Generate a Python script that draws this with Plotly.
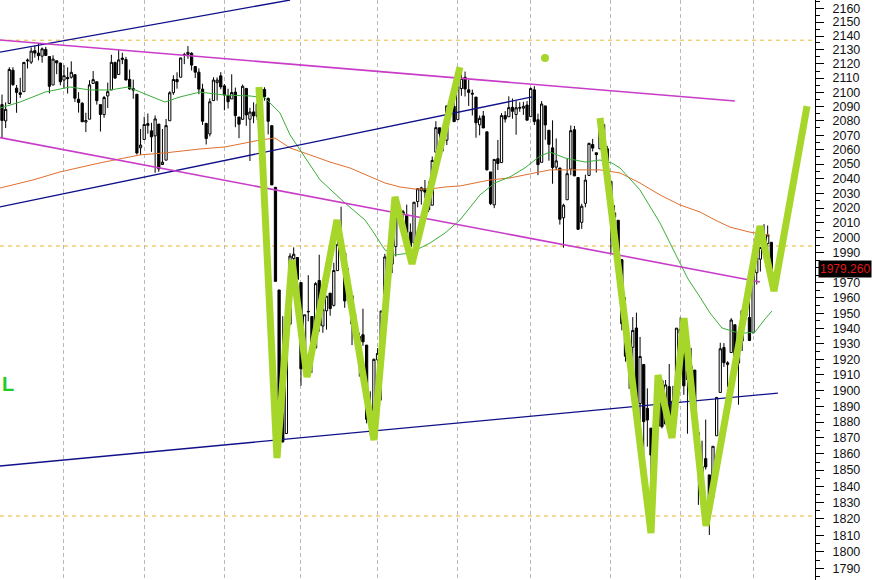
import math
import plotly.graph_objects as go

# ---------------- data (daily candles) ----------------
dates = [
 "2015-05-06","2015-05-07","2015-05-08","2015-05-11","2015-05-12","2015-05-13","2015-05-14","2015-05-15",
 "2015-05-18","2015-05-19","2015-05-20","2015-05-21","2015-05-22","2015-05-26","2015-05-27","2015-05-28","2015-05-29",
 "2015-06-01","2015-06-02","2015-06-03","2015-06-04","2015-06-05","2015-06-08","2015-06-09","2015-06-10","2015-06-11",
 "2015-06-12","2015-06-15","2015-06-16","2015-06-17","2015-06-18","2015-06-19","2015-06-22","2015-06-23","2015-06-24",
 "2015-06-25","2015-06-26","2015-06-29","2015-06-30",
 "2015-07-01","2015-07-02","2015-07-06","2015-07-07","2015-07-08","2015-07-09","2015-07-10","2015-07-13","2015-07-14",
 "2015-07-15","2015-07-16","2015-07-17","2015-07-20","2015-07-21","2015-07-22","2015-07-23","2015-07-24","2015-07-27",
 "2015-07-28","2015-07-29","2015-07-30","2015-07-31",
 "2015-08-03","2015-08-04","2015-08-05","2015-08-06","2015-08-07","2015-08-10","2015-08-11","2015-08-12","2015-08-13",
 "2015-08-14","2015-08-17","2015-08-18","2015-08-19","2015-08-20","2015-08-21","2015-08-24","2015-08-25","2015-08-26",
 "2015-08-27","2015-08-28","2015-08-31",
 "2015-09-01","2015-09-02","2015-09-03","2015-09-04","2015-09-08","2015-09-09","2015-09-10","2015-09-11","2015-09-14",
 "2015-09-15","2015-09-16","2015-09-17","2015-09-18","2015-09-21","2015-09-22","2015-09-23","2015-09-24","2015-09-25",
 "2015-09-28","2015-09-29","2015-09-30",
 "2015-10-01","2015-10-02","2015-10-05","2015-10-06","2015-10-07","2015-10-08","2015-10-09","2015-10-12","2015-10-13",
 "2015-10-14","2015-10-15","2015-10-16","2015-10-19","2015-10-20","2015-10-21","2015-10-22","2015-10-23","2015-10-26",
 "2015-10-27","2015-10-28","2015-10-29","2015-10-30",
 "2015-11-02","2015-11-03","2015-11-04","2015-11-05","2015-11-06","2015-11-09","2015-11-10","2015-11-11","2015-11-12",
 "2015-11-13","2015-11-16","2015-11-17","2015-11-18","2015-11-19","2015-11-20","2015-11-23","2015-11-24","2015-11-25",
 "2015-11-27","2015-11-30",
 "2015-12-01","2015-12-02","2015-12-03","2015-12-04","2015-12-07","2015-12-08","2015-12-09","2015-12-10","2015-12-11",
 "2015-12-14","2015-12-15","2015-12-16","2015-12-17","2015-12-18","2015-12-21","2015-12-22","2015-12-23","2015-12-24",
 "2015-12-28","2015-12-29","2015-12-30","2015-12-31",
 "2016-01-04","2016-01-05","2016-01-06","2016-01-07","2016-01-08","2016-01-11","2016-01-12","2016-01-13","2016-01-14",
 "2016-01-15","2016-01-19","2016-01-20","2016-01-21","2016-01-22","2016-01-25","2016-01-26","2016-01-27","2016-01-28",
 "2016-01-29",
 "2016-02-01","2016-02-02","2016-02-03","2016-02-04","2016-02-05","2016-02-08","2016-02-09","2016-02-10","2016-02-11",
 "2016-02-12","2016-02-16","2016-02-17","2016-02-18","2016-02-19","2016-02-22","2016-02-23","2016-02-24","2016-02-25",
 "2016-02-26","2016-02-29",
 "2016-03-01","2016-03-02","2016-03-03","2016-03-04","2016-03-07","2016-03-08",
]

opens = [
 2091.3,2079.9,2092.1,2115.6,2102.9,2099.6,2100.4,2122.1,2121.3,2129.5,2127.8,2125.6,2130.4,2125.3,2105.1,2122.3,2120.7,
 2108.6,2110.4,2110.6,2112.4,2095.1,2092.3,2079.1,2081.1,2106.2,2107.4,2091.3,2084.3,2097.4,2101.6,2121.1,2112.5,2123.2,
 2123.2,2109.1,2102.6,2098.6,2061.2,
 2067.0,2078.0,2073.0,2069.5,2077.7,2049.7,2052.7,2080.0,2099.7,2109.0,2110.6,2126.8,2126.9,2127.6,2118.2,2114.2,2102.2,
 2078.2,2070.8,2094.1,2106.8,2111.6,
 2104.5,2097.7,2095.3,2100.1,2082.6,2081.0,2102.7,2081.1,2086.2,2083.2,2089.7,2102.0,2095.7,2076.6,2034.1,1965.2,1898.1,
 1872.8,1942.8,1986.1,1986.7,
 1970.1,1916.5,1950.8,1947.8,1927.3,1971.5,1941.6,1951.5,1963.1,1955.1,1978.0,1995.3,1989.7,1960.8,1961.4,1943.2,1934.8,
 1935.9,1929.2,1881.9,1887.1,
 1919.7,1921.8,1954.3,1986.6,1982.3,1994.0,2013.7,2015.7,2015.0,2003.7,1996.5,2024.4,2031.7,2033.1,2033.5,2021.9,2058.2,
 2075.1,2068.8,2066.5,2088.4,2090.0,
 2080.8,2102.6,2110.6,2101.7,2098.6,2096.6,2077.2,2083.4,2072.3,2044.6,2022.1,2053.7,2051.0,2083.7,2082.8,2089.4,2084.4,
 2089.3,2088.8,2091.0,
 2082.9,2101.7,2080.7,2051.2,2090.4,2073.4,2061.2,2047.9,2047.3,2013.4,2025.6,2046.5,2073.8,2040.8,2010.3,2023.2,2042.2,
 2063.5,2057.8,2060.5,2077.3,2060.6,
 2038.2,2013.8,2011.7,1985.3,1946.0,1926.1,1927.8,1940.3,1891.7,1916.7,1888.7,1876.2,1861.5,1877.4,1906.3,1878.8,1902.5,
 1885.2,1894.0,
 1936.9,1935.3,1907.1,1911.7,1913.1,1873.3,1848.5,1857.1,1847.0,1833.4,1871.4,1898.8,1927.6,1916.7,1924.4,1942.4,1917.6,
 1931.9,1955.0,1947.1,
 1937.1,1976.6,1985.6,1994.0,1996.1,1996.9,
]

highs = [
 2098.4,2092.9,2117.7,2117.7,2105.1,2110.2,2121.5,2123.9,2131.8,2133.0,2134.7,2131.8,2132.2,2125.3,2126.2,2122.3,2120.7,
 2119.2,2117.6,2121.9,2112.9,2100.0,2093.0,2085.6,2108.5,2115.0,2107.4,2091.3,2097.4,2106.8,2126.6,2121.6,2129.9,2128.0,
 2125.1,2116.0,2108.9,2098.6,2074.3,
 2082.8,2085.1,2078.6,2083.7,2077.7,2074.3,2081.3,2100.7,2112.0,2114.1,2124.4,2128.0,2132.8,2128.4,2118.5,2116.9,2106.0,
 2078.2,2095.6,2110.6,2110.5,2114.2,
 2105.7,2102.5,2112.7,2103.3,2082.6,2105.4,2102.7,2089.1,2092.9,2092.5,2102.9,2103.5,2096.2,2076.6,2034.1,1965.2,1948.0,
 1943.1,1989.6,1993.5,1986.7,
 1970.1,1948.9,1975.0,1947.8,1970.4,1988.6,1965.3,1961.1,1963.1,1983.2,1997.3,2020.9,1989.7,1979.6,1961.4,1949.5,1937.2,
 1952.9,1929.2,1899.5,1920.5,
 1927.2,1951.4,1989.2,1991.6,1999.3,2016.5,2020.1,2018.7,2022.3,2009.6,2024.2,2033.5,2034.5,2039.1,2038.0,2055.2,2079.7,
 2075.1,2070.4,2090.4,2092.5,2094.3,
 2106.2,2116.5,2114.6,2108.8,2101.9,2096.6,2083.7,2086.9,2072.3,2044.6,2053.2,2066.7,2085.3,2086.7,2097.1,2095.6,2094.1,
 2093.0,2093.3,2093.8,
 2103.4,2104.3,2085.0,2093.8,2090.4,2073.4,2080.3,2067.7,2047.3,2022.9,2053.9,2076.7,2076.4,2040.8,2022.9,2042.7,2064.7,
 2067.4,2057.8,2081.6,2077.3,2062.5,
 2038.2,2021.9,2011.7,1985.3,1960.4,1935.7,1947.4,1950.3,1934.5,1916.7,1901.4,1876.2,1889.9,1908.9,1906.3,1906.7,1917.0,
 1903.0,1940.2,
 1947.2,1935.3,1918.0,1927.4,1913.1,1873.3,1868.3,1881.6,1847.0,1864.8,1895.8,1930.7,1930.5,1918.8,1946.7,1942.4,1932.1,
 1951.8,1963.0,1958.3,
 1978.4,1986.5,1993.7,2009.1,2008.2,1996.9,
]

lows = [
 2067.9,2074.9,2092.1,2104.6,2085.6,2096.0,2100.4,2116.8,2120.0,2124.5,2122.6,2120.9,2126.1,2099.2,2105.1,2112.8,2104.9,
 2102.5,2099.1,2109.6,2093.2,2085.7,2079.1,2072.1,2081.1,2106.2,2091.3,2072.5,2082.1,2088.9,2101.6,2109.5,2112.5,2119.9,
 2108.6,2101.8,2095.4,2056.6,2056.3,
 2067.0,2071.0,2058.4,2044.0,2044.7,2049.7,2052.7,2080.0,2098.2,2102.5,2110.6,2119.9,2123.7,2115.4,2110.0,2098.6,2077.1,
 2063.5,2069.1,2094.1,2094.1,2102.1,
 2087.3,2088.6,2095.3,2075.5,2067.9,2081.0,2076.5,2052.1,2078.3,2080.6,2079.3,2094.1,2070.5,2035.7,1970.9,1867.0,1867.1,
 1872.8,1942.8,1975.2,1966.0,
 1903.1,1916.5,1944.7,1911.2,1927.3,1937.9,1937.2,1939.2,1948.3,1954.3,1977.9,1986.7,1953.5,1955.8,1929.2,1932.6,1908.9,
 1928.7,1879.2,1871.9,1887.1,
 1900.7,1893.7,1954.3,1972.0,1976.4,1987.5,2007.6,2010.3,2001.8,1990.7,1996.5,2020.5,2022.3,2026.6,2017.2,2021.9,2058.2,
 2066.5,2058.8,2063.1,2082.6,2079.3,
 2080.8,2097.5,2097.0,2090.4,2083.7,2068.2,2069.9,2074.9,2045.7,2022.0,2019.9,2045.9,2051.0,2078.8,2082.8,2081.4,2070.3,
 2086.3,2084.1,2080.4,
 2082.9,2077.1,2042.4,2051.2,2066.8,2052.3,2036.5,2045.9,2008.8,1993.3,2025.6,2042.4,2041.7,2005.3,2005.9,2020.5,2042.2,
 2058.7,2044.2,2060.5,2062.0,2043.6,
 1989.7,2004.2,1979.1,1938.8,1918.5,1901.1,1914.4,1886.3,1878.9,1857.8,1864.6,1812.3,1849.0,1877.4,1876.0,1878.8,1872.7,
 1873.7,1894.0,
 1920.0,1897.3,1872.7,1900.5,1872.7,1828.5,1834.9,1850.3,1810.1,1833.4,1871.4,1898.8,1915.1,1902.2,1924.4,1919.4,1891.0,
 1925.4,1945.8,1931.8,
 1937.1,1968.8,1977.4,1986.6,1989.4,1977.4,
]

closes = [
 2080.2,2088.0,2116.1,2105.3,2099.9,2098.5,2121.1,2122.7,2129.2,2127.8,2125.9,2130.8,2126.1,2104.2,2123.5,2120.8,2107.4,
 2111.7,2109.6,2114.1,2095.8,2092.8,2079.3,2080.2,2105.2,2108.9,2094.1,2084.4,2096.3,2100.4,2121.2,2110.0,2122.9,2124.2,
 2108.6,2102.3,2101.5,2057.6,2063.1,
 2077.4,2076.8,2068.8,2081.3,2046.7,2051.3,2076.6,2099.6,2109.0,2107.4,2124.3,2126.6,2128.3,2119.2,2114.2,2102.2,2079.7,
 2067.6,2093.3,2108.6,2108.6,2103.8,
 2098.0,2093.3,2099.8,2083.6,2077.6,2104.2,2084.1,2086.1,2083.4,2091.5,2102.4,2096.9,2079.6,2035.7,1970.9,1893.2,1867.6,
 1940.5,1987.7,1988.9,1972.2,
 1913.9,1948.9,1951.1,1921.2,1969.4,1942.0,1952.3,1961.1,1953.0,1978.1,1995.3,1990.2,1958.0,1967.0,1942.7,1938.8,1932.2,
 1931.3,1881.8,1884.1,1920.0,
 1923.8,1951.4,1987.1,1979.9,1995.8,2013.4,2014.9,2017.5,2003.7,1994.2,2023.9,2033.1,2033.7,2030.8,2018.9,2052.5,2075.2,
 2071.2,2065.9,2090.4,2089.4,2079.4,
 2104.1,2109.8,2102.3,2099.9,2099.2,2078.6,2081.7,2075.0,2046.0,2023.0,2053.2,2050.4,2083.6,2081.2,2089.2,2086.6,2089.1,
 2088.9,2090.1,2080.4,
 2102.6,2079.5,2049.6,2091.7,2077.1,2063.6,2047.6,2052.2,2012.4,2021.9,2043.4,2073.1,2041.9,2005.6,2021.2,2039.0,2064.3,
 2061.0,2056.5,2078.4,2063.4,2043.9,
 2012.7,2016.7,1990.3,1943.1,1922.0,1923.7,1938.7,1890.3,1921.8,1880.3,1881.3,1859.3,1869.0,1906.9,1877.1,1903.6,1883.0,
 1893.4,1940.2,
 1939.4,1903.0,1912.5,1915.5,1880.1,1853.4,1852.2,1851.9,1829.1,1864.8,1895.6,1926.8,1917.8,1917.8,1945.5,1921.3,1929.8,
 1951.7,1948.1,1932.2,
 1978.4,1986.5,1993.4,2000.0,2001.8,1979.26,
]

# moving averages (x = candle number from first candle)
ma_green_x = [-0.55, 4.93, 11.79, 18.65, 24.13, 29.62, 34.55, 37.84, 44.70, 48.82, 54.30, 61.16, 68.01, 72.13,
              76.24, 78.99, 87.21, 94.07, 99.56, 101.48, 105.04, 107.78, 111.90, 117.38, 121.50, 125.61, 128.35,
              131.10, 135.21, 139.33, 143.44, 147.55, 150.30, 154.41, 159.90, 164.01, 167.30, 169.50, 174.98,
              180.47, 184.58, 188.15, 191.44, 194.18, 197.47, 201.04, 203.78, 206.52, 209.27, 211.18]
ma_green_v = [2088.9, 2093.1, 2100.1, 2103.7, 2101.6, 2101.6, 2103.7, 2100.1, 2093.1, 2096.7, 2100.1, 2098.0,
              2097.4, 2096.0, 2085.5, 2070.2, 2039.2, 2023.4, 2011.9, 2005.1, 1991.7, 1988.4, 1989.7, 1996.4,
              2003.1, 2011.9, 2020.7, 2028.9, 2037.1, 2041.2, 2047.4, 2055.5, 2058.3, 2054.2, 2051.4, 2052.8,
              2050.7, 2047.3, 2032.3, 2009.9, 1989.7, 1972.5, 1960.5, 1950.1, 1940.3, 1937.7, 1937.0, 1937.7,
              1946.2, 1951.4]
ma_orange_x = [-0.55, 8.50, 15.90, 26.87, 37.84, 44.70, 54.30, 61.16, 68.01, 70.76, 74.87, 78.99, 84.47, 89.96,
               95.45, 100.93, 105.04, 109.15, 113.27, 117.38, 121.50, 125.61, 129.73, 133.84, 139.33, 144.81,
               150.30, 158.53, 164.01, 169.50, 174.98, 180.47, 185.95, 191.44, 195.55, 199.67, 205.15, 210.63]
ma_orange_v = [2033.6, 2039.1, 2044.6, 2050.8, 2056.3, 2057.7, 2060.4, 2061.8, 2065.2, 2066.6, 2068.0, 2061.1,
               2056.3, 2051.4, 2047.3, 2041.1, 2037.0, 2034.3, 2032.9, 2032.9, 2034.3, 2035.0, 2037.0, 2039.1,
               2040.5, 2043.2, 2046.0, 2046.0, 2046.0, 2043.9, 2037.0, 2028.9, 2022.1, 2017.3, 2011.9, 2007.1,
               2003.7, 2001.7]

# trendlines: (x0, v0, x1, v1)
blue_lines = [(-0.55, 2128.5, 79.0, 2166.0),
              (-0.55, 2020.7, 145.4, 2096.7),
              (-0.55, 1852.5, 212.8, 1898.4)]
magenta_lines = [(-0.55, 2137.1, 201.0, 2093.8),
                 (-0.55, 2068.3, 207.9, 1970.5)]

# horizontal levels
levels = [2137.0, 1994.4, 1821.7]

# hand-drawn zigzag projections
zz_a_x = [70.48, 75.42, 79.53, 83.65, 91.88, 102.02, 107.78, 112.45, 125.61]
zz_a_v = [2103.7, 1857.5, 1985.1, 1908.6, 2011.9, 1868.7, 2027.5, 1982.4, 2117.8]
zz_b_x = [164.01, 178.0, 179.93, 183.76, 187.05, 193.08, 207.89, 211.73, 220.79]
zz_b_v = [2081.9, 1811.3, 1909.9, 1870.0, 1946.8, 1815.6, 2007.8, 1964.5, 2090.3]
dot_x = [148.92]
dot_v = [2124.3]

last_price = 1979.26
y_ticks = list(range(1790, 2161, 10))
y_minor = list(range(1785, 2166, 10))
# the 1980 label is hidden behind the last-price box in the reference
y_ticktext = ["" if t == 1980 else str(t) for t in y_ticks]

# ---------------- figure ----------------
xs = list(range(len(dates)))
month_starts = [i for i in range(1, len(dates)) if dates[i][5:7] != dates[i - 1][5:7]]

fig = go.Figure()

fig.add_trace(go.Candlestick(
    x=xs, open=opens, high=highs, low=lows, close=closes,
    increasing=dict(line=dict(color="black", width=1), fillcolor="white"),
    decreasing=dict(line=dict(color="black", width=1), fillcolor="black"),
    whiskerwidth=0, hoverinfo="skip", showlegend=False,
))

fig.add_trace(go.Scatter(x=ma_orange_x, y=ma_orange_v, mode="lines",
                         line=dict(color="#e0702e", width=1), hoverinfo="skip", showlegend=False))
fig.add_trace(go.Scatter(x=ma_green_x, y=ma_green_v, mode="lines",
                         line=dict(color="#3aae3a", width=1), hoverinfo="skip", showlegend=False))

for (x0, v0, x1, v1) in blue_lines:
    fig.add_trace(go.Scatter(x=[x0, x1], y=[v0, v1], mode="lines",
                             line=dict(color="#10108a", width=1.3), hoverinfo="skip", showlegend=False))
for (x0, v0, x1, v1) in magenta_lines:
    fig.add_trace(go.Scatter(x=[x0, x1], y=[v0, v1], mode="lines",
                             line=dict(color="#c83cc8", width=1.6), hoverinfo="skip", showlegend=False))

for zx, zv in [(zz_a_x, zz_a_v), (zz_b_x, zz_b_v)]:
    fig.add_trace(go.Scatter(x=zx, y=zv, mode="lines",
                             line=dict(color="#a6d62a", width=7), hoverinfo="skip", showlegend=False))
fig.add_trace(go.Scatter(x=dot_x, y=dot_v, mode="markers",
                         marker=dict(color="#a6d62a", size=8), hoverinfo="skip", showlegend=False))

for lv in levels:
    fig.add_shape(type="line", xref="paper", x0=0, x1=1, yref="y", y0=lv, y1=lv,
                  line=dict(color="#e8b830", width=1, dash="4px,4px"), layer="below")

# annotations on a log axis take log10 positions
fig.add_annotation(xref="paper", yref="y", x=1.0, y=math.log10(last_price), xanchor="left", yanchor="middle",
                   xshift=3, text="%.3f" % last_price, showarrow=False, bgcolor="black", borderpad=1,
                   font=dict(family="Liberation Sans, Arial", size=12, color="#e01818"))
fig.add_annotation(xref="paper", yref="paper", x=0.0, y=1 - 384 / 580, xanchor="left", yanchor="middle",
                   text="<b>L</b>", showarrow=False,
                   font=dict(family="Liberation Sans, Arial", size=20, color="#22cc22"))

fig.update_layout(
    width=872, height=580,
    margin=dict(l=0, r=57, t=0, b=0, pad=0),
    paper_bgcolor="white", plot_bgcolor="white",
    showlegend=False, hovermode=False,
    boxgap=0.12,
    xaxis=dict(range=[-0.55, 222.98], rangeslider=dict(visible=False), automargin=False,
               tickmode="array", tickvals=month_starts, showticklabels=False, ticks="",
               showgrid=True, gridcolor="#b8b8b8", griddash="4px,3px", gridwidth=1,
               zeroline=False, showline=False),
    yaxis=dict(type="log", side="right", range=[3.25115, 3.33566], automargin=False,
               tickmode="array", tickvals=y_ticks, ticktext=y_ticktext,
               ticks="outside", ticklen=8, tickwidth=1, tickcolor="black", ticklabelstandoff=6,
               minor=dict(tickmode="array", tickvals=y_minor, ticks="outside", ticklen=4,
                          tickcolor="black", showgrid=False),
               showline=True, linecolor="black", linewidth=1, showgrid=False, zeroline=False,
               tickfont=dict(family="Liberation Sans, Arial", size=12.5, color="#111111")),
)

fig.write_html("out.html", config={"displayModeBar": False},
               post_script="document.body.style.margin='0px';")
